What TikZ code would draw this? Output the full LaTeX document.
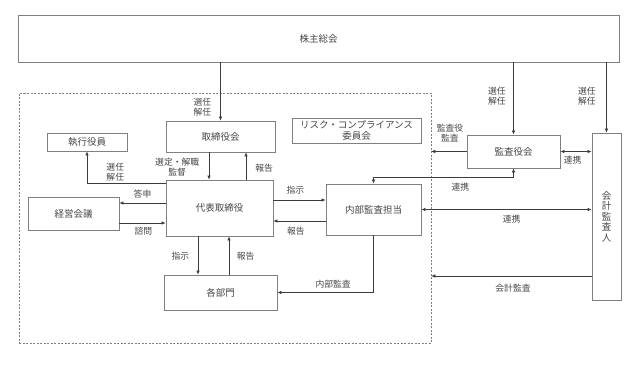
\documentclass[tikz,border=0pt]{standalone}
\usepackage{fontspec}
\setmainfont{Noto Sans CJK JP}
\usetikzlibrary{arrows.meta,positioning}
\definecolor{govBoxLine}{RGB}{128,128,128}
\definecolor{govLine}{RGB}{60,60,60}
\definecolor{govText}{RGB}{70,70,70}
\tikzset{
  orgbox/.style={rectangle, draw=govBoxLine, line width=0.9pt, fill=white, align=center,
    inner sep=2pt, font=\fontsize{9.5}{11}\selectfont, text=govText},
  groupframe/.style={rectangle, draw=govBoxLine, line width=0.6pt, dash pattern=on 2pt off 1.5pt},
  edgelabel/.style={font=\fontsize{8.8}{10}\selectfont, text=govText, inner sep=1pt, align=center},
  flowarrow/.style={-{Latex[length=4pt,width=3.6pt]}, draw=govLine, line width=0.6pt},
  linkarrow/.style={{Latex[length=4pt,width=3.6pt]}-{Latex[length=4pt,width=3.6pt]}, draw=govLine, line width=0.6pt},
}
\begin{document}
\begin{tikzpicture}[x=1pt, y=-1pt]
  \useasboundingbox (0,0) rectangle (637,383);

  % company frame
  \node[groupframe, minimum width=412pt, minimum height=250pt] (grp) at (225,218) {};

  \node[orgbox, minimum width=601pt, minimum height=47pt] (gms) at (318.5,38.5) {株主総会};
  \node[orgbox, minimum width=109pt, minimum height=31pt] (board) at (220.5,136.5) {取締役会};
  \node[orgbox, minimum width=80pt, minimum height=18pt] (exec) at (87,142) {執行役員};
  \node[orgbox, minimum width=129pt, minimum height=25pt] (risk) at (356.5,130.5) {リスク・コンプライアンス\\委員会};
  \node[orgbox, minimum width=107pt, minimum height=56pt] (ceo) at (219.5,208) {代表取締役};
  \node[orgbox, minimum width=91pt, minimum height=33pt] (mgmt) at (73.5,213.5) {経営会議};
  \node[orgbox, minimum width=95pt, minimum height=51pt] (ia) at (373.5,209.5) {内部監査担当};
  \node[orgbox, minimum width=113pt, minimum height=35pt] (dept) at (220.5,292.5) {各部門};
  \node[orgbox, minimum width=93pt, minimum height=33pt] (kansa) at (513.5,151.5) {監査役会};
  \node[orgbox, minimum width=29pt, minimum height=167pt, font=\fontsize{9.5}{10.5}\selectfont] (auditor) at (606.5,216.5) {会\\計\\監\\査\\人};

  % shareholders
  \draw[flowarrow] (board.north |- gms.south) -- node[edgelabel, pos=0.77, left=8pt] {選任\\解任} (board.north);
  \draw[flowarrow] (kansa.north |- gms.south) -- node[edgelabel, pos=0.47, left=6.5pt] {選任\\解任} (kansa.north);
  \draw[flowarrow] (auditor.north |- gms.south) -- node[edgelabel, pos=0.48, left=9.5pt] {選任\\解任} (auditor.north);

  % board and president
  \draw[flowarrow] ([xshift=-10.5pt]ceo.north |- board.south) -- node[edgelabel, pos=0.54, left=8.5pt] {選定・解職\\監督} ([xshift=-10.5pt]ceo.north);
  \draw[flowarrow] ([xshift=26.5pt]ceo.north) -- node[edgelabel, pos=0.43, right=8pt] {報告} ([xshift=26.5pt]ceo.north |- board.south);
  \draw[flowarrow] ([yshift=-4pt]ceo.north west) -| node[edgelabel, pos=0.32, above=1.5pt] {選任\\解任} (exec.south);

  % management council
  \draw[flowarrow] ([yshift=5pt]ceo.west) -- node[edgelabel, pos=0.5, above=3pt] {答申} ([yshift=5pt]ceo.west -| mgmt.east);
  \draw[flowarrow] ([yshift=-15pt]ceo.west -| mgmt.east) -- node[edgelabel, pos=0.52, below=3pt] {諮問} ([yshift=-15pt]ceo.west);

  % internal audit
  \draw[flowarrow] ([yshift=8pt]ceo.east) -- node[edgelabel, pos=0.42, above=4pt] {指示} ([yshift=8pt]ceo.east -| ia.west);
  \draw[flowarrow] ([yshift=-13pt]ceo.east -| ia.west) -- node[edgelabel, pos=0.57, below=5pt] {報告} ([yshift=-13pt]ceo.east);

  % departments
  \draw[flowarrow] ([xshift=-21.5pt]ceo.south) -- node[edgelabel, pos=0.51, left=7.5pt] {指示} ([xshift=-21.5pt]ceo.south |- dept.north);
  \draw[flowarrow] ([xshift=9.5pt]ceo.south |- dept.north) -- node[edgelabel, pos=0.49, right=6.5pt] {報告} ([xshift=9.5pt]ceo.south);
  \draw[flowarrow] (ia.south) |- node[edgelabel, pos=0.71, above=2.5pt] {内部監査} (dept.east);

  % auditors
  \draw[flowarrow] (kansa.west) -- node[edgelabel, pos=0.47, above=8pt] {監査役\\監査} (kansa.west -| grp.east);
  \draw[linkarrow] (kansa.east) -- node[edgelabel, pos=0.39, below=3pt] {連携} (kansa.east -| auditor.west);
  \draw[linkarrow] (kansa.south) -- ++(0,9) -| node[edgelabel, pos=0.19, below=4.5pt] {連携} (ia.north);
  \draw[linkarrow] (ia.east) -- node[edgelabel, pos=0.53, below=4pt] {連携} (ia.east -| auditor.west);
  \draw[flowarrow] ([yshift=-59.5pt]auditor.west) -- node[edgelabel, pos=0.49, below=6.5pt] {会計監査} ([yshift=-59.5pt]auditor.west -| grp.east);
\end{tikzpicture}
\end{document}
